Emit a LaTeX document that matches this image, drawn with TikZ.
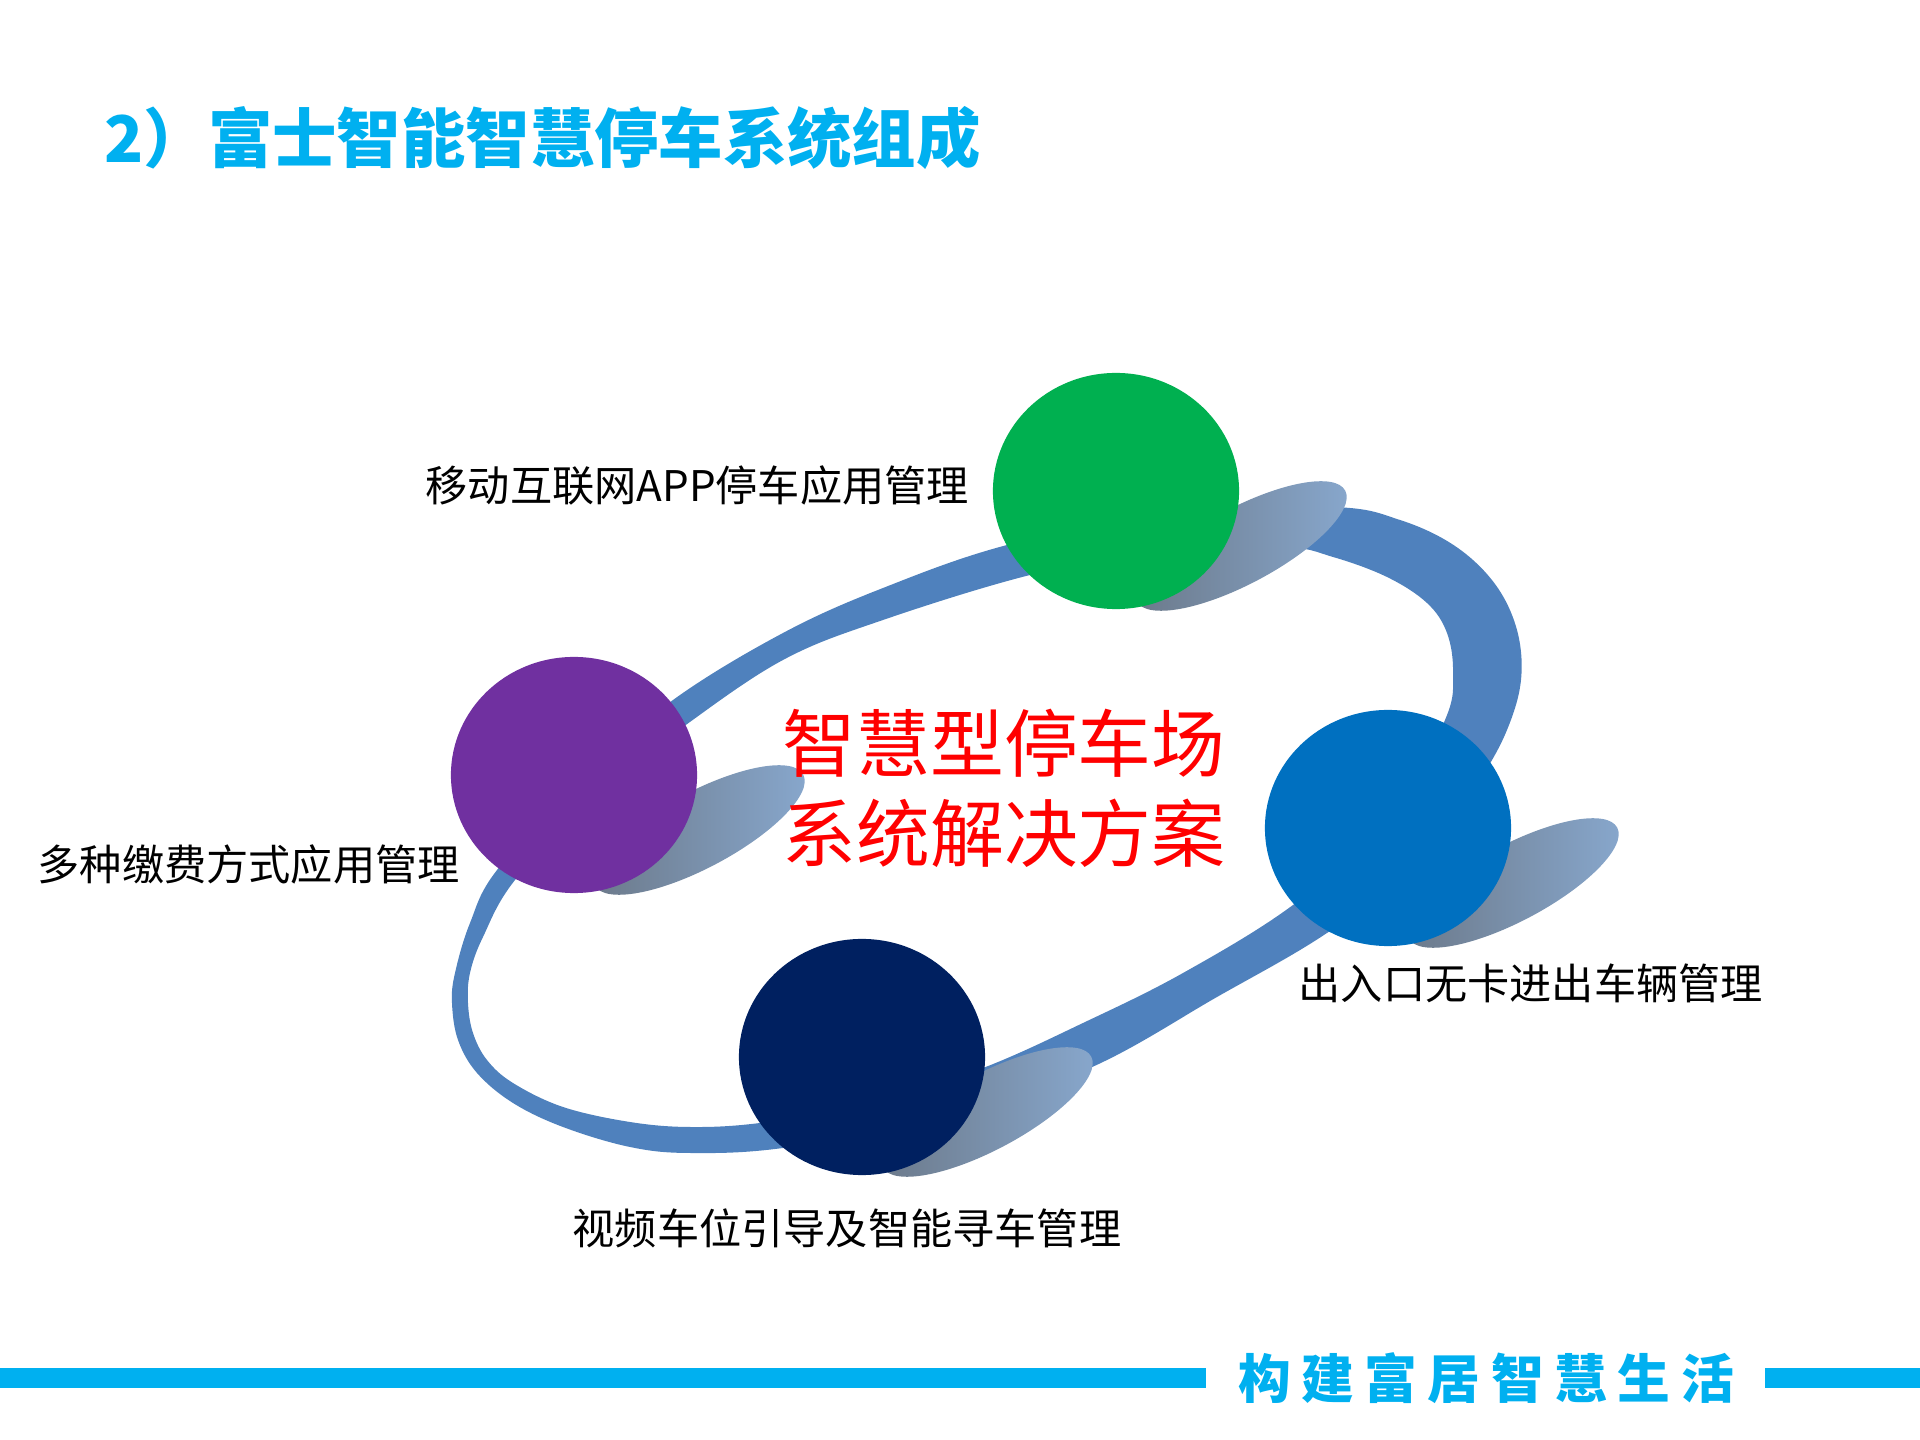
\documentclass[tikz,border=0pt]{standalone}
\usepackage{fontspec}
\newfontfamily\cjk{Noto Sans CJK SC}
\newfontfamily\cjkspaced{Noto Sans CJK SC}[LetterSpace=20]
\usetikzlibrary{calc,shapes.geometric}

\definecolor{titlecyan}{HTML}{00B0F0}
\definecolor{ringblue}{HTML}{4F81BD}
\definecolor{ballgreen}{HTML}{00B050}
\definecolor{ballpurple}{HTML}{7030A0}
\definecolor{ballblue}{HTML}{0070C0}
\definecolor{ballnavy}{HTML}{002060}
\definecolor{shadowdark}{HTML}{6B7888}
\definecolor{shadowlight}{HTML}{88A8CE}

\begin{document}
\begin{tikzpicture}[x=0.01cm, y=-0.01cm,
    ball/.style={ellipse, minimum width=2.46cm, minimum height=2.36cm, inner sep=0pt},
    caption/.style={anchor=west, inner sep=0pt, font=\cjk\fontsize{12}{14}\selectfont},
    shadowblob/.style={left color=shadowdark, right color=shadowlight, rotate=28}]
    % Page frame
    \useasboundingbox (0,0) rectangle (1920,1440);

    % Title
    \node[anchor=west, inner sep=0pt, text=titlecyan, font=\cjk\bfseries\fontsize{18.3}{20}\selectfont] (title) at (104,138) {2）富士智能智慧停车系统组成};

    % The ring: outer edge and inner edge
    \fill[ringblue, even odd rule]
        plot[smooth cycle, tension=0.6] coordinates {
            (1333,507) (1400,520) (1455,546) (1495,584) (1517,630) (1521,680)
            (1507,730) (1480,780) (1430,855) (1327,933) (1217,997) (1090,1068) (940,1120)
            (783,1148) (690,1153) (630,1147) (563,1127) (513,1103) (477,1073)
            (458,1040) (452,1003) (455,973) (470,923) (497,870) (580,780)
            (673,700) (783,633) (883,588) (1007,545) (1170,512)}
        plot[smooth cycle, tension=0.6] coordinates {
            (1283,547) (1333,557) (1387,577) (1427,603) (1447,633) (1453,673)
            (1445,720) (1390,820) (1293,905) (1183,973) (1083,1023) (983,1068)
            (870,1105) (760,1123) (690,1127) (630,1122) (563,1107) (513,1083)
            (487,1060) (473,1033) (468,1003) (470,973) (483,937) (515,880)
            (595,795) (683,727) (783,660) (883,620) (1030,575) (1160,550)};

    % Centres of the balls
    \coordinate (Cgreen) at (1116,491);
    \coordinate (Cpurple) at (574,775);
    \coordinate (Cblue) at (1388,828);
    \coordinate (Cnavy) at (862,1057);

    % Shadows behind the balls
    \shade[shift={($(Cgreen)+(125,55)$)}, shadowblob] (0,0) ellipse (118 and 38);
    \shade[shift={($(Cpurple)+(125,55)$)}, shadowblob] (0,0) ellipse (118 and 38);
    \shade[shift={($(Cblue)+(125,55)$)}, shadowblob] (0,0) ellipse (118 and 38);
    \shade[shift={($(Cnavy)+(125,55)$)}, shadowblob] (0,0) ellipse (118 and 38);

    % Balls
    \node[ball, fill=ballgreen] (green) at (Cgreen) {};
    \node[ball, fill=ballpurple] (purple) at (Cpurple) {};
    \node[ball, fill=ballblue] (blue) at (Cblue) {};
    \node[ball, fill=ballnavy] (navy) at (Cnavy) {};

    % Captions
    \node[caption] (appText) at (425,485) {移动互联网APP停车应用管理};
    \node[caption] (payText) at (37,864) {多种缴费方式应用管理};
    \node[caption] (gateText) at (1298,983) {出入口无卡进出车辆管理};
    \node[caption] (guideText) at (572,1228) {视频车位引导及智能寻车管理};

    % Centre text
    \node[align=center, inner sep=0pt, text=red, font=\cjk\fontsize{21}{25.6}\selectfont] (core) at (1004,788) {智慧型停车场\\系统解决方案};

    % Footer
    \fill[titlecyan] (0,1368) rectangle (1206,1388);
    \fill[titlecyan] (1765,1368) rectangle (1920,1388);
    \node[inner sep=0pt, text=titlecyan, font=\cjkspaced\bfseries\fontsize{15}{17}\selectfont] (motto) at (1486,1378) {构建富居智慧生活};
\end{tikzpicture}
\end{document}
